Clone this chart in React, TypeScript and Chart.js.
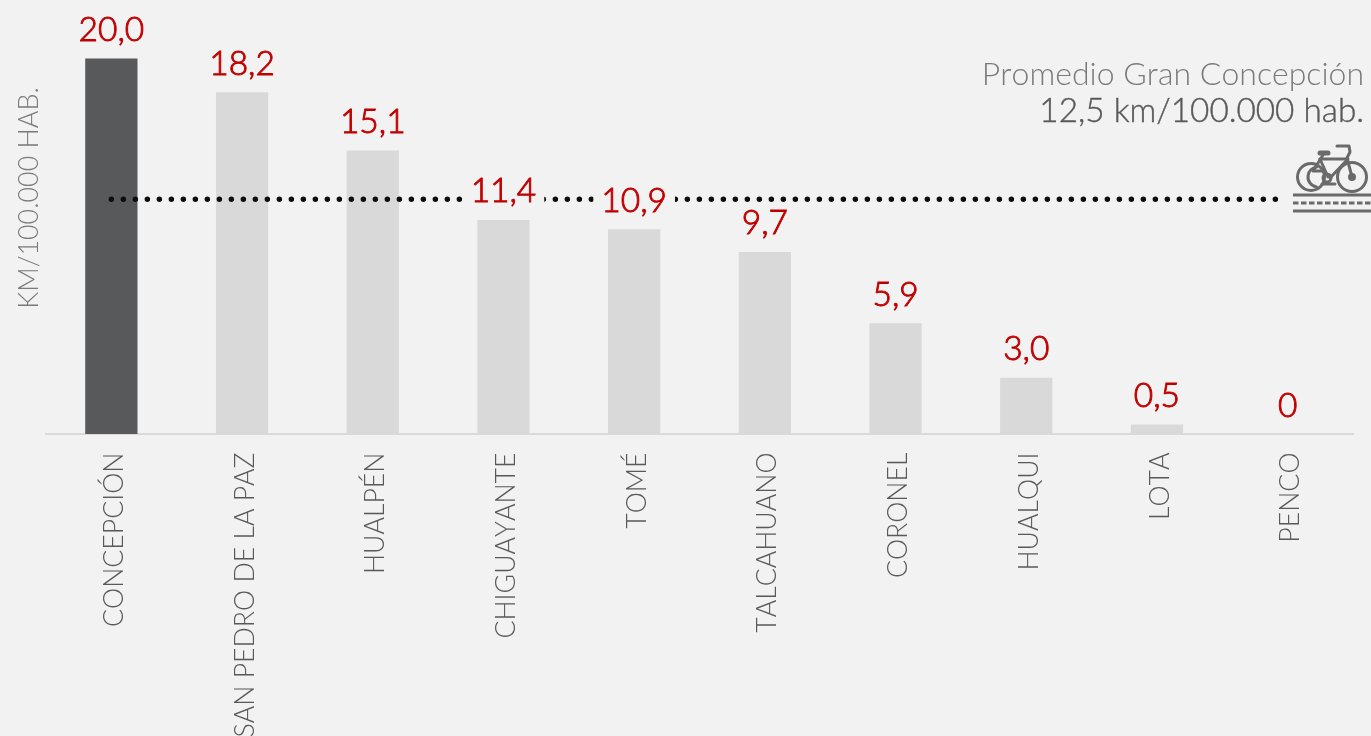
import React, { useEffect, useRef } from "react";
import { Chart, registerables } from "chart.js";

Chart.register(...registerables);

const comunas = ["CONCEPCIÓN", "SAN PEDRO DE LA PAZ", "HUALPÉN", "CHIGUAYANTE", "TOMÉ", "TALCAHUANO", "CORONEL", "HUALQUI", "LOTA", "PENCO"];
const kmPorHabitante = [20.0, 18.2, 15.1, 11.4, 10.9, 9.7, 5.9, 3.0, 0.5, 0];
const etiquetas = ["20,0", "18,2", "15,1", "11,4", "10,9", "9,7", "5,9", "3,0", "0,5", "0"];
const promedio = [12.5, 12.5, 12.5, 12.5, 12.5, 12.5, 12.5, 12.5, 12.5, 12.5];
const colores = ["#58595b", "#d9d9d9", "#d9d9d9", "#d9d9d9", "#d9d9d9", "#d9d9d9", "#d9d9d9", "#d9d9d9", "#d9d9d9", "#d9d9d9"];
const tituloEjeY = "KM/100.000 HAB.";
const notaLinea1 = "Promedio Gran Concepción";
const notaLinea2 = "12,5 km/100.000 hab.";

const FONDO = "#f2f2f2";

const drawBike = (ctx: CanvasRenderingContext2D) => {
  ctx.save();
  ctx.strokeStyle = "#6a6a6a";
  ctx.fillStyle = "#6a6a6a";
  ctx.lineWidth = 3;
  ctx.lineCap = "round";
  ctx.lineJoin = "round";
  const seg = (pts: number[][]) => {
    ctx.beginPath();
    pts.forEach((p, i) => (i ? ctx.lineTo(p[0], p[1]) : ctx.moveTo(p[0], p[1])));
    ctx.stroke();
  };
  const arc = (x: number, y: number, r: number, a = 0, b = Math.PI * 2) => {
    ctx.beginPath();
    ctx.arc(x, y, r, a, b);
    ctx.stroke();
  };
  arc(1311, 177, 13.5);
  arc(1318, 177, 10, Math.PI * 0.55, Math.PI * 1.45);
  arc(1352, 177, 14.5);
  arc(1352, 177, 2.5);
  arc(1327, 178, 4);
  seg([[1320, 159], [1348, 159]]);
  seg([[1323, 155], [1313, 171], [1324, 171]]);
  seg([[1320, 159], [1328, 177]]);
  seg([[1337, 146], [1349, 146], [1350, 152], [1347, 158], [1352, 177]]);
  seg([[1347, 160], [1330, 178]]);
  seg([[1322, 184], [1335, 184]]);
  ctx.lineWidth = 5;
  seg([[1320, 153], [1328, 153]]);
  ctx.lineCap = "butt";
  ctx.lineWidth = 3;
  seg([[1293, 195], [1371, 195]]);
  seg([[1293, 211], [1371, 211]]);
  ctx.setLineDash([5.5, 2.5]);
  seg([[1293, 203], [1371, 203]]);
  ctx.restore();
};

const decorPlugin = {
  id: "decor",
  beforeDraw(chart: any) {
    chart.ctx.fontKerning = "none";
  },
  afterDatasetsDraw(chart: any) {
    const { ctx, scales } = chart;
    ctx.save();

    // etiquetas de valor, con fondo que interrumpe la línea punteada
    ctx.font = '300 33.5px Lato';
    ctx.textAlign = "center";
    ctx.textBaseline = "alphabetic";
    ctx.strokeStyle = "#c00000";
    ctx.lineWidth = 0.9;
    kmPorHabitante.forEach((v, i) => {
      const x = scales.x.getPixelForValue(i);
      const y = scales.y.getPixelForValue(v) - 17.5;
      const w = ctx.measureText(etiquetas[i]).width;
      ctx.fillStyle = FONDO;
      if (i > 0) ctx.fillRect(x - w / 2 - 8, y - 26, w + 16, 30);
      ctx.fillStyle = "#c00000";
      ctx.fillText(etiquetas[i], x, y);
      ctx.strokeText(etiquetas[i], x, y);
    });

    // título del eje Y
    ctx.save();
    ctx.translate(37.5, 198);
    ctx.rotate(-Math.PI / 2);
    ctx.font = '300 26.9px Lato';
    ctx.fillStyle = "#7a7a7a";
    ctx.fillText(tituloEjeY, 0, 0);
    ctx.restore();

    // nota del promedio
    ctx.textAlign = "right";
    ctx.font = '300 32px Lato';
    ctx.fillStyle = "#7a7a7a";
    ctx.fillText(notaLinea1, 1364, 85);
    ctx.font = '300 33.3px Lato';
    ctx.fillStyle = "#595959";
    ctx.strokeStyle = "#595959";
    ctx.lineWidth = 0.4;
    ctx.fillText(notaLinea2, 1364, 122);
    ctx.strokeText(notaLinea2, 1364, 122);
    ctx.restore();

    drawBike(ctx);
  },
};

export default function App() {
  const ref = useRef<HTMLCanvasElement>(null);

  useEffect(() => {
    const chart = new Chart(ref.current!, {
      type: "bar",
      data: {
        labels: comunas,
        datasets: [
          {
            type: "line",
            data: promedio,
            borderColor: "#0d0d0d",
            borderWidth: 5.5,
            borderCapStyle: "round",
            borderDash: [0, 12],
            pointRadius: 0,
            tension: 0,
            order: 1,
            clip: { left: 0, top: 0, right: -73, bottom: 0 },
          } as any,
          {
            type: "bar",
            data: kmPorHabitante,
            backgroundColor: colores,
            barPercentage: 0.4,
            categoryPercentage: 1,
            order: 2,
          },
        ],
      },
      options: {
        animation: false,
        responsive: false,
        layout: { padding: { left: 46, right: 18, top: 0, bottom: 0 } },
        plugins: { legend: { display: false }, tooltip: { enabled: false } },
        scales: {
          x: {
            grid: { display: false },
            border: { color: "#d9d9d9", width: 2 },
            afterFit(scale: any) {
              scale.height = 302;
            },
            ticks: {
              autoSkip: false,
              minRotation: 90,
              maxRotation: 90,
              padding: 10.5,
              labelOffset: 3,
              color: "#595959",
              font: { family: "Lato", size: 26.7, weight: "300" },
            },
          },
          y: {
            display: false,
            min: 0,
            max: 434 / 18.775,
          },
        },
      },
      plugins: [decorPlugin],
    } as any);
    return () => chart.destroy();
  }, []);

  return (
    <div style={{ position: "fixed", inset: 0, background: FONDO, overflow: "hidden" }}>
      <canvas ref={ref} width={1371} height={736} style={{ display: "block" }} />
    </div>
  );
}
